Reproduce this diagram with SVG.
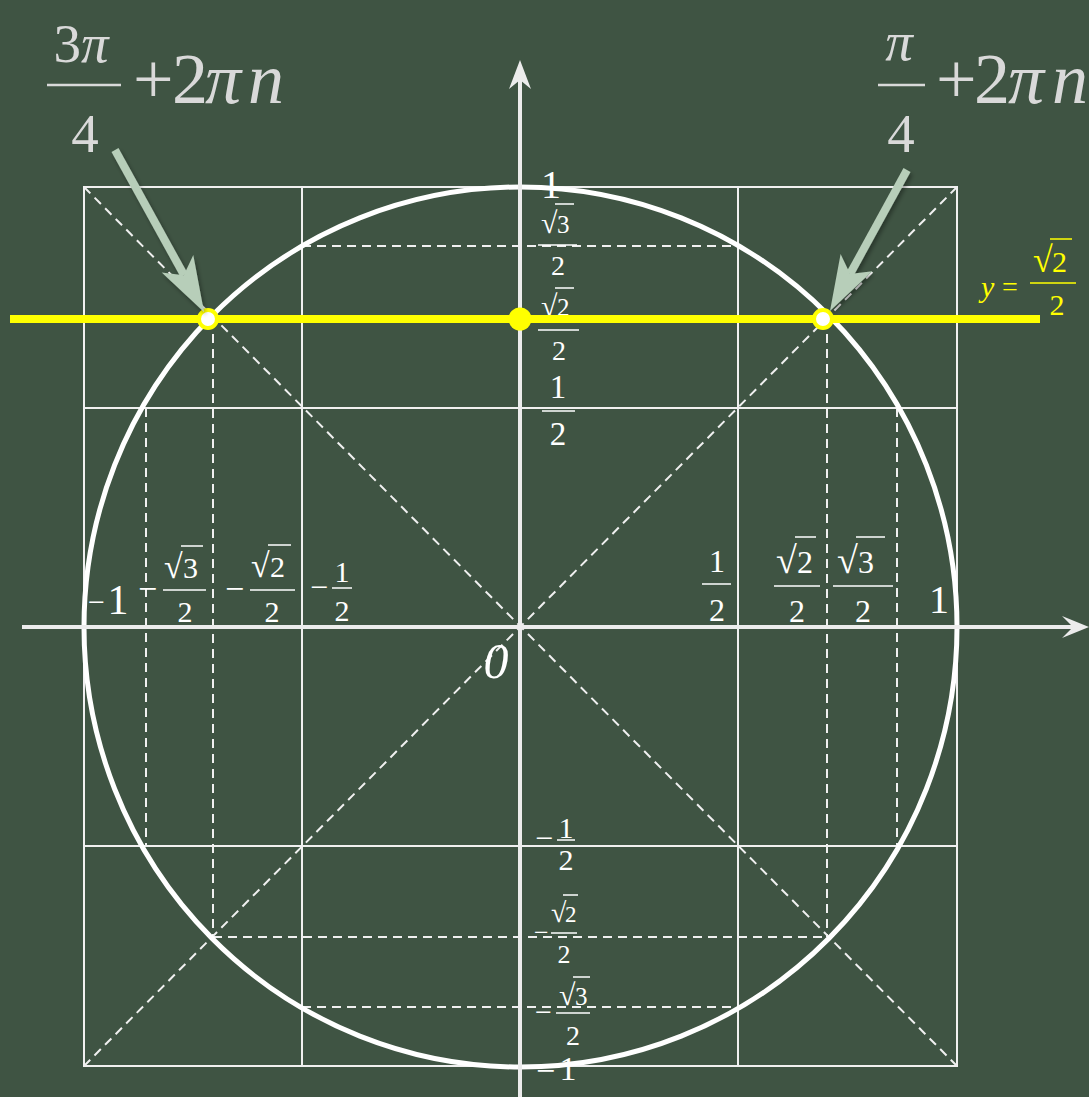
<svg xmlns="http://www.w3.org/2000/svg" width="1089" height="1097" viewBox="0 0 1089 1097" font-family="'Liberation Serif', 'Times New Roman', Times, 'DejaVu Serif', serif">
<defs>
<style>
text{font-family:'Liberation Serif','Times New Roman',Times,'DejaVu Serif',serif}
.grid{stroke:#f0f0f0;stroke-width:2;fill:none}
.dash{stroke:#f0f0f0;stroke-width:2;stroke-dasharray:9 6;fill:none}
.axis{stroke:#ececec;stroke-width:4;fill:none}
.t{fill:#ffffff}
.m{text-anchor:middle}
.it{font-style:italic}
.bar{stroke:#ffffff;stroke-width:1.5}
.big{fill:#d9d9d9}
.bigbar{stroke:#d9d9d9;stroke-width:2.5}
.ylw{fill:#ffff00}
.arrow{fill:#b7ceb9;stroke:none}
</style>
<filter id="sh" x="-20%" y="-20%" width="140%" height="140%">
<feDropShadow dx="2" dy="3" stdDeviation="2" flood-color="#000000" flood-opacity="0.35"/>
</filter>
</defs>
<rect width="1089" height="1097" fill="#3f5443"/>

<g id="grid">
<rect class="grid" x="84" y="187" width="873" height="879"/>
<line class="grid" x1="302" y1="187" x2="302" y2="1066"/>
<line class="grid" x1="738" y1="187" x2="738" y2="1066"/>
<line class="grid" x1="84" y1="408" x2="957" y2="408"/>
<line class="grid" x1="84" y1="846" x2="957" y2="846"/>
</g>

<g id="dashes">
<line class="dash" x1="84" y1="187" x2="957" y2="1066"/>
<line class="dash" x1="957" y1="187" x2="84" y2="1066"/>
<line class="dash" x1="302" y1="246" x2="738" y2="246"/>
<line class="dash" x1="302" y1="1007" x2="738" y2="1007"/>
<line class="dash" x1="213" y1="319" x2="827" y2="319"/>
<line class="dash" x1="213" y1="937" x2="827" y2="937"/>
<line class="dash" x1="146" y1="408" x2="146" y2="846"/>
<line class="dash" x1="897" y1="408" x2="897" y2="846"/>
<line class="dash" x1="213" y1="319" x2="213" y2="937"/>
<line class="dash" x1="827" y1="319" x2="827" y2="937"/>
</g>

<g id="circle">
<ellipse cx="520.5" cy="627" rx="436.5" ry="440" fill="none" stroke="#ffffff" stroke-width="5"/>
</g>

<g id="axes">
<line class="axis" x1="22" y1="627" x2="1075" y2="627"/>
<polygon points="1089,627 1062,616 1073,627 1062,638" fill="#ececec"/>
<line class="axis" x1="520" y1="1097" x2="520" y2="75"/>
<polygon points="520,60 509,89 520,80 531,89" fill="#ececec"/>
</g>

<g id="y-labels">
<text class="t m" x="551" y="198" font-size="40">1</text>
<text class="t" x="541" y="233" font-size="30">√</text><text class="t" x="557" y="233" font-size="25">3</text>
<line class="bar" x1="555" y1="204" x2="574" y2="204"/>
<line class="bar" x1="538" y1="245" x2="577" y2="245"/>
<text class="t m" x="558" y="275" font-size="28">2</text>
<text class="t" x="541" y="316" font-size="30">√</text><text class="t" x="557" y="316" font-size="25">2</text>
<line class="bar" x1="555" y1="288" x2="574" y2="288"/>
<line class="bar" x1="538" y1="330" x2="579" y2="330"/>
<text class="t m" x="559" y="360" font-size="28">2</text>
<text class="t m" x="558" y="398" font-size="33">1</text>
<line class="bar" x1="542" y1="411" x2="575" y2="411"/>
<text class="t m" x="558" y="445" font-size="33">2</text>

<text class="t" x="535" y="849" font-size="32">−</text>
<text class="t m" x="566" y="838" font-size="30">1</text>
<line class="bar" x1="557" y1="840" x2="575" y2="840"/>
<text class="t m" x="566" y="870" font-size="30">2</text>
<text class="t" x="534" y="941" font-size="26">−</text>
<text class="t" x="551" y="922" font-size="28">√</text><text class="t" x="565" y="922" font-size="23">2</text>
<line class="bar" x1="563" y1="895" x2="578" y2="895"/>
<line class="bar" x1="551" y1="933" x2="577" y2="933"/>
<text class="t m" x="564" y="963" font-size="26">2</text>
<text class="t" x="535" y="1022" font-size="30">−</text>
<text class="t" x="559" y="1005" font-size="30">√</text><text class="t" x="575" y="1005" font-size="25">3</text>
<line class="bar" x1="573" y1="977" x2="590" y2="977"/>
<line class="bar" x1="556" y1="1013" x2="590" y2="1013"/>
<text class="t m" x="573" y="1045" font-size="28">2</text>
<text class="t" x="536" y="1082" font-size="34">−</text>
<text class="t m" x="568" y="1080" font-size="34">1</text>
</g>

<g id="x-labels">
<text class="t" x="88" y="612" font-size="30">−</text>
<text class="t m" x="118" y="614" font-size="42">1</text>
<text class="t" x="138" y="600" font-size="34">−</text>
<text class="t" x="164" y="578" font-size="34">√</text><text class="t" x="183" y="578" font-size="30">3</text>
<line class="bar" x1="181" y1="546" x2="203" y2="546"/>
<line class="bar" x1="163" y1="590" x2="206" y2="590"/>
<text class="t m" x="185" y="622" font-size="30">2</text>
<text class="t" x="225" y="600" font-size="34">−</text>
<text class="t" x="251" y="577" font-size="34">√</text><text class="t" x="270" y="577" font-size="30">2</text>
<line class="bar" x1="268" y1="545" x2="291" y2="545"/>
<line class="bar" x1="250" y1="590" x2="295" y2="590"/>
<text class="t m" x="272" y="622" font-size="30">2</text>
<text class="t" x="310" y="598" font-size="32">−</text>
<text class="t m" x="342" y="582" font-size="30">1</text>
<line class="bar" x1="332" y1="588" x2="352" y2="588"/>
<text class="t m" x="342" y="621" font-size="30">2</text>

<text class="t m" x="717" y="572" font-size="32">1</text>
<line class="bar" x1="702" y1="584" x2="731" y2="584"/>
<text class="t m" x="717" y="621" font-size="32">2</text>
<text class="t" x="776" y="573" font-size="38">√</text><text class="t" x="797" y="573" font-size="32">2</text>
<line class="bar" x1="795" y1="537" x2="816" y2="537"/>
<line class="bar" x1="774" y1="586" x2="820" y2="586"/>
<text class="t m" x="797" y="622" font-size="32">2</text>
<text class="t" x="837" y="573" font-size="38">√</text><text class="t" x="858" y="573" font-size="32">3</text>
<line class="bar" x1="856" y1="537" x2="885" y2="537"/>
<line class="bar" x1="833" y1="586" x2="893" y2="586"/>
<text class="t m" x="863" y="622" font-size="32">2</text>
<text class="t m" x="939" y="613" font-size="40">1</text>
<text class="t m it" x="496" y="678" font-size="50">0</text>
</g>

<g id="yellow-line">
<line x1="10" y1="319" x2="1040" y2="319" stroke="#ffff00" stroke-width="8"/>
<circle cx="520" cy="319" r="11.5" fill="#ffff00"/>
<circle cx="208" cy="319" r="9" fill="#ffffff" stroke="#ffff00" stroke-width="4"/>
<circle cx="823" cy="319" r="9" fill="#ffffff" stroke="#ffff00" stroke-width="4"/>
<text class="ylw it" x="981" y="297" font-size="30">y</text>
<text class="ylw" x="1002" y="296" font-size="28">=</text>
<text class="ylw" x="1033" y="272" font-size="36">√</text><text class="ylw" x="1052" y="272" font-size="30">2</text>
<line x1="1050" y1="239" x2="1072" y2="239" stroke="#ffff00" stroke-width="1.5"/>
<line x1="1030" y1="283" x2="1076" y2="283" stroke="#ffff00" stroke-width="1.5"/>
<text class="ylw m" x="1057" y="315" font-size="30">2</text>
</g>

<g id="label-left">
<text class="big m" x="81" y="62" font-size="55">3<tspan font-style="italic">π</tspan></text>
<line class="bigbar" x1="47" y1="85" x2="121" y2="85"/>
<text class="big m" x="85" y="152" font-size="55">4</text>
<text class="big" y="103" font-size="72"><tspan x="133">+</tspan><tspan x="172">2</tspan><tspan x="205" font-style="italic">π</tspan><tspan x="248" font-style="italic">n</tspan></text>
</g>

<g id="label-right">
<text class="big m it" x="899" y="60" font-size="55">π</text>
<line class="bigbar" x1="878" y1="85" x2="925" y2="85"/>
<text class="big m" x="901" y="152" font-size="55">4</text>
<text class="big" y="103" font-size="72"><tspan x="936">+</tspan><tspan x="974">2</tspan><tspan x="1008" font-style="italic">π</tspan><tspan x="1052" font-style="italic">n</tspan></text>
</g>

<g id="connectors" filter="url(#sh)">
<line x1="115" y1="150" x2="184" y2="275" stroke="#b7ceb9" stroke-width="8"/>
<polygon class="arrow" points="204,312 161.7,272.5 183.8,275.2 193.3,255.1"/>
<line x1="907" y1="170" x2="850" y2="274" stroke="#b7ceb9" stroke-width="8"/>
<polygon class="arrow" points="830,311 840.6,254.1 850.1,274.1 872.2,271.3"/>
</g>
</svg>
